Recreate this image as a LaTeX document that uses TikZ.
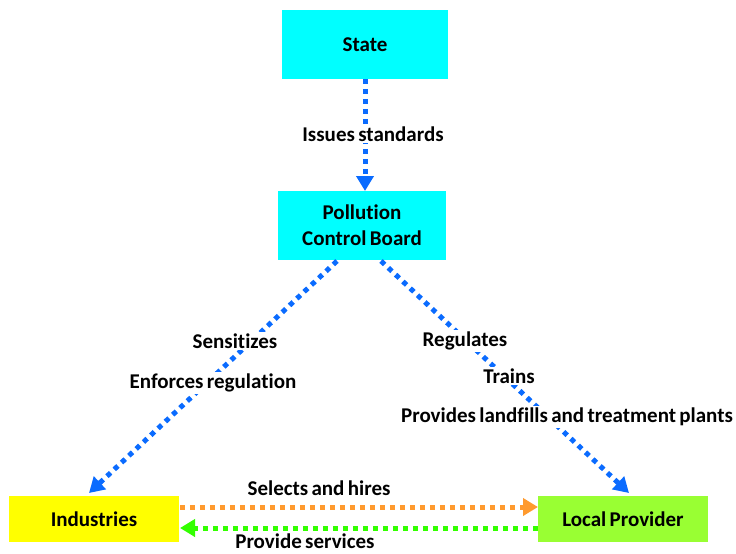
\documentclass[tikz,border=0pt]{standalone}
\usepackage{fontspec}
\setmainfont{Carlito}[Ligatures=NoCommon, WordSpace=0.7]
\usetikzlibrary{arrows.meta}
\definecolor{boxcyan}{HTML}{00FFFF}
\definecolor{boxyellow}{HTML}{FFFF00}
\definecolor{boxgreen}{HTML}{99FF33}
\definecolor{linkblue}{HTML}{0A6BFF}
\definecolor{linkorange}{HTML}{FF9A2E}
\definecolor{linkgreen}{HTML}{33FF00}
\tikzset{
  box/.style={minimum width=#1, inner sep=0pt, font=\bfseries\fontsize{21}{26}\selectfont, align=center},
  lbl/.style={fill=white, inner sep=1.5pt, font=\bfseries\fontsize{21}{22}\selectfont},
  dotlink/.style={line width=5pt, dash pattern=on 5pt off 5pt, draw=#1,
    -{Triangle[width=17pt,length=15pt,fill=#1]}},
}
\begin{document}
\begin{tikzpicture}[x=1pt,y=-1pt]
\useasboundingbox (0,0) rectangle (736,554);
\node[box=166pt, minimum height=69pt, fill=boxcyan] (state) at (365,44.5) {State};
\node[box=168pt, minimum height=69pt, fill=boxcyan] (pcb) at (362,225.5) {Pollution\\Control Board};
\node[box=170pt, minimum height=46pt, fill=boxyellow] (ind) at (94,519) {Industries};
\node[box=170pt, minimum height=46pt, fill=boxgreen] (lp) at (623,519) {Local Provider};

\coordinate (s1) at (365,79);
\coordinate (s2) at (365,191);
\draw[dotlink=linkblue] (s1) -- (s2);
\coordinate (l1) at (337,261);
\coordinate (l2) at (89,493);
\draw[dotlink=linkblue] (l1) -- (l2);
\coordinate (r1) at (381,261);
\coordinate (r2) at (629,493);
\draw[dotlink=linkblue] (r1) -- (r2);
\coordinate (o1) at (180,507);
\coordinate (o2) at (538,507);
\draw[dotlink=linkorange] (o1) -- (o2);
\coordinate (g1) at (538,528);
\coordinate (g2) at (180,528);
\draw[dotlink=linkgreen] (g1) -- (g2);

\node[lbl] (t1) at (373,134) {Issues standards};
\node[lbl] (t2) at (235,341) {Sensitizes};
\node[lbl] (t3) at (213,383) {Enforces regulation};
\node[lbl] (t4) at (465,341) {Regulates};
\node[lbl] (t5) at (509,376) {Trains};
\node[lbl] (t6) at (567,417) {Provides landfills and treatment plants};
\node[lbl, fill=none] (t7) at (319,488) {Selects and hires};
\node[lbl, fill=none, inner sep=0pt, anchor=base] (t8) at (305,548.5) {Provide services};
\end{tikzpicture}
\end{document}
